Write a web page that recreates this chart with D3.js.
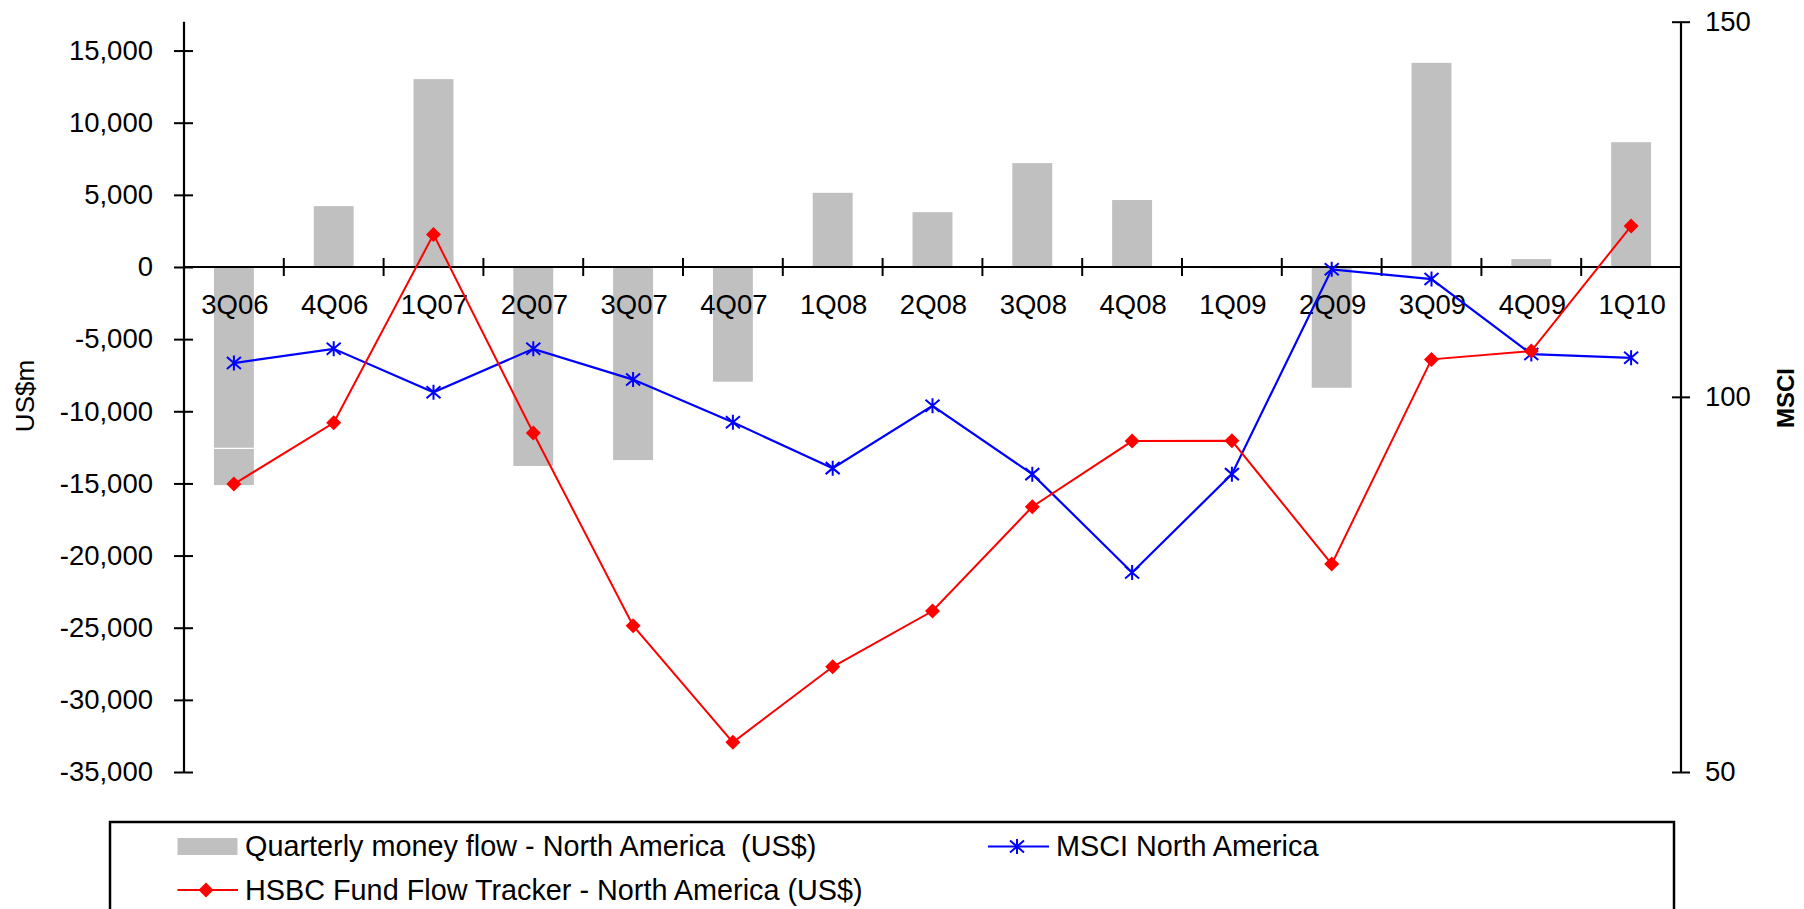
<!DOCTYPE html>
<html>
<head>
<meta charset="utf-8">
<script src="https://cdn.jsdelivr.net/npm/d3@7"></script>
<style>
  html, body { margin: 0; padding: 0; background: #fff; }
  svg { display: block; font-family: "Liberation Sans", Arial, sans-serif; }
</style>
</head>
<body>
<svg id="chart" width="1804" height="909"></svg>
<script>
// Quarterly fund flows into North America equity funds (US$m) and the MSCI index
const quarters = ["3Q06","4Q06","1Q07","2Q07","3Q07","4Q07","1Q08","2Q08","3Q08","4Q08","1Q09","2Q09","3Q09","4Q09","1Q10"];
const quarterlyFlow = [-15115, 4220, 13020, -13790, -13380, -7950, 5140, 3800, 7200, 4640, -80, -8370, 14150, 550, 8650];
const flowTracker = [-15045, -10797, 2259, -11510, -24865, -32945, -27706, -23846, -16618, -12065, -12044, -20589, -6403, -5828, 2834];
const msciNorthAmerica = [104.5, 106.4, 100.6, 106.4, 102.3, 96.6, 90.5, 98.8, 89.7, 76.6, 89.7, 117.0, 115.7, 105.7, 105.2];
// a thin break drawn inside the first bar
const flowBreaks = [{ q: "3Q06", v: -12570 }];

const leftTicks = [-35000, -30000, -25000, -20000, -15000, -10000, -5000, 0, 5000, 10000, 15000];
const rightTicks = [50, 100, 150];

const svg = d3.select("#chart");
const plot = { left: 184, right: 1681, top: 21.7, bottom: 772 };

const x = d3.scaleBand().domain(quarters).range([plot.left, plot.right]).paddingInner(0).paddingOuter(0);
const yL = d3.scaleLinear().domain([-35000, 17000]).range([plot.bottom, plot.top]);
const yR = d3.scaleLinear().domain([50, 150]).range([plot.bottom, plot.top]);

// thousands separators with a plain hyphen for negatives
const fmt = d3.formatLocale({ decimal: ".", thousands: ",", grouping: [3], currency: ["$", ""], minus: "-" }).format(",");
const cx = q => x(q) + x.bandwidth() / 2;
const barW = x.bandwidth() * 0.4;

// bars
svg.append("g").selectAll("rect")
  .data(quarters.map((q, i) => ({ q, v: quarterlyFlow[i] })))
  .join("rect")
  .attr("x", d => cx(d.q) - barW / 2)
  .attr("width", barW)
  .attr("y", d => Math.min(yL(d.v), yL(0)))
  .attr("height", d => Math.max(1, Math.abs(yL(d.v) - yL(0))))
  .attr("fill", "#c0c0c0");

svg.append("g").selectAll("line")
  .data(flowBreaks)
  .join("line")
  .attr("x1", d => cx(d.q) - barW / 2).attr("x2", d => cx(d.q) + barW / 2)
  .attr("y1", d => yL(d.v)).attr("y2", d => yL(d.v))
  .attr("stroke", "#fff").attr("stroke-width", 1.2);

// left axis
const leftAxis = d3.axisLeft(yL).tickValues(leftTicks).tickFormat(fmt).tickSize(0).tickPadding(31);
const gL = svg.append("g").attr("transform", `translate(${plot.left},0)`).call(leftAxis);
gL.select(".domain").remove();
gL.selectAll("text").attr("font-size", 27.5).attr("fill", "#000").attr("font-family", "Liberation Sans, Arial, sans-serif");
gL.selectAll(".tick").append("line").attr("x1", -10).attr("x2", 9).attr("stroke", "#000").attr("stroke-width", 2);
svg.append("line").attr("x1", plot.left).attr("x2", plot.left)
  .attr("y1", plot.top).attr("y2", plot.bottom).attr("stroke", "#000").attr("stroke-width", 2.2);

// right axis
const rightAxis = d3.axisRight(yR).tickValues(rightTicks).tickSize(0).tickPadding(24);
const gR = svg.append("g").attr("transform", `translate(${plot.right},0)`).call(rightAxis);
gR.select(".domain").remove();
gR.selectAll("text").attr("font-size", 27.5).attr("fill", "#000").attr("font-family", "Liberation Sans, Arial, sans-serif");
gR.selectAll(".tick").append("line").attr("x1", -9).attr("x2", 9).attr("stroke", "#000").attr("stroke-width", 2);
svg.append("line").attr("x1", plot.right).attr("x2", plot.right)
  .attr("y1", plot.top).attr("y2", plot.bottom).attr("stroke", "#000").attr("stroke-width", 2.2);

// category axis at zero
const y0 = yL(0);
svg.append("line").attr("x1", plot.left).attr("x2", plot.right)
  .attr("y1", y0).attr("y2", y0).attr("stroke", "#000").attr("stroke-width", 2.2);
const boundaries = quarters.map(q => x(q)).concat([plot.right]);
svg.append("g").selectAll("line")
  .data(boundaries)
  .join("line")
  .attr("x1", d => d).attr("x2", d => d)
  .attr("y1", y0 - 9).attr("y2", y0 + 9)
  .attr("stroke", "#000").attr("stroke-width", 2);
svg.append("g").selectAll("text")
  .data(quarters)
  .join("text")
  .attr("x", d => cx(d) + 1)
  .attr("y", y0 + 47)
  .attr("text-anchor", "middle")
  .attr("font-size", 27.5)
  .text(d => d);

// axis titles
svg.append("text")
  .attr("transform", `translate(34,396) rotate(-90)`)
  .attr("text-anchor", "middle")
  .attr("font-size", 26)
  .text("US$m");
svg.append("text")
  .attr("transform", `translate(1794,398) rotate(-90)`)
  .attr("text-anchor", "middle")
  .attr("font-size", 24)
  .attr("font-weight", "bold")
  .text("MSCI");

// markers
const diamond = (g, px, py, r) =>
  g.append("path")
    .attr("d", `M${px},${py - r}L${px + r},${py}L${px},${py + r}L${px - r},${py}Z`)
    .attr("fill", "#ff0000");
const star = (g, px, py) =>
  g.append("path")
    .attr("d", `M${px - 7},${py - 6}L${px + 7},${py + 6}M${px - 7},${py + 6}L${px + 7},${py - 6}M${px},${py - 7.5}L${px},${py + 7.5}`)
    .attr("stroke", "#0000ff").attr("stroke-width", 2).attr("fill", "none");

// MSCI line (right axis)
const msciPts = quarters.map((q, i) => [cx(q), yR(msciNorthAmerica[i])]);
svg.append("path")
  .attr("d", d3.line()(msciPts))
  .attr("fill", "none").attr("stroke", "#0000ff").attr("stroke-width", 2.2);
const gStar = svg.append("g");
msciPts.forEach(p => star(gStar, p[0], p[1]));

// HSBC tracker line (left axis)
const trackPts = quarters.map((q, i) => [cx(q), yL(flowTracker[i])]);
svg.append("path")
  .attr("d", d3.line()(trackPts))
  .attr("fill", "none").attr("stroke", "#ff0000").attr("stroke-width", 2);
const gDia = svg.append("g");
trackPts.forEach(p => diamond(gDia, p[0], p[1], 7.5));

// legend
const leg = svg.append("g");
leg.append("rect")
  .attr("x", 110).attr("y", 822).attr("width", 1564).attr("height", 120)
  .attr("fill", "#fff").attr("stroke", "#000").attr("stroke-width", 2.5);
leg.append("rect").attr("x", 177.5).attr("y", 838).attr("width", 60).attr("height", 17).attr("fill", "#c0c0c0");
leg.append("text").attr("x", 245).attr("y", 856).attr("font-size", 28.8)
  .attr("xml:space", "preserve").text("Quarterly money flow - North America  (US$)");
leg.append("line").attr("x1", 988).attr("x2", 1049).attr("y1", 846.5).attr("y2", 846.5)
  .attr("stroke", "#0000ff").attr("stroke-width", 2.2);
star(leg, 1017, 846.5);
leg.append("text").attr("x", 1056).attr("y", 856).attr("font-size", 28.8).text("MSCI North America");
leg.append("line").attr("x1", 177.5).attr("x2", 238).attr("y1", 890).attr("y2", 890)
  .attr("stroke", "#ff0000").attr("stroke-width", 2);
diamond(leg, 206, 890, 7.5);
leg.append("text").attr("x", 245).attr("y", 900).attr("font-size", 28.8)
  .text("HSBC Fund Flow Tracker - North America (US$)");
</script>
</body>
</html>
